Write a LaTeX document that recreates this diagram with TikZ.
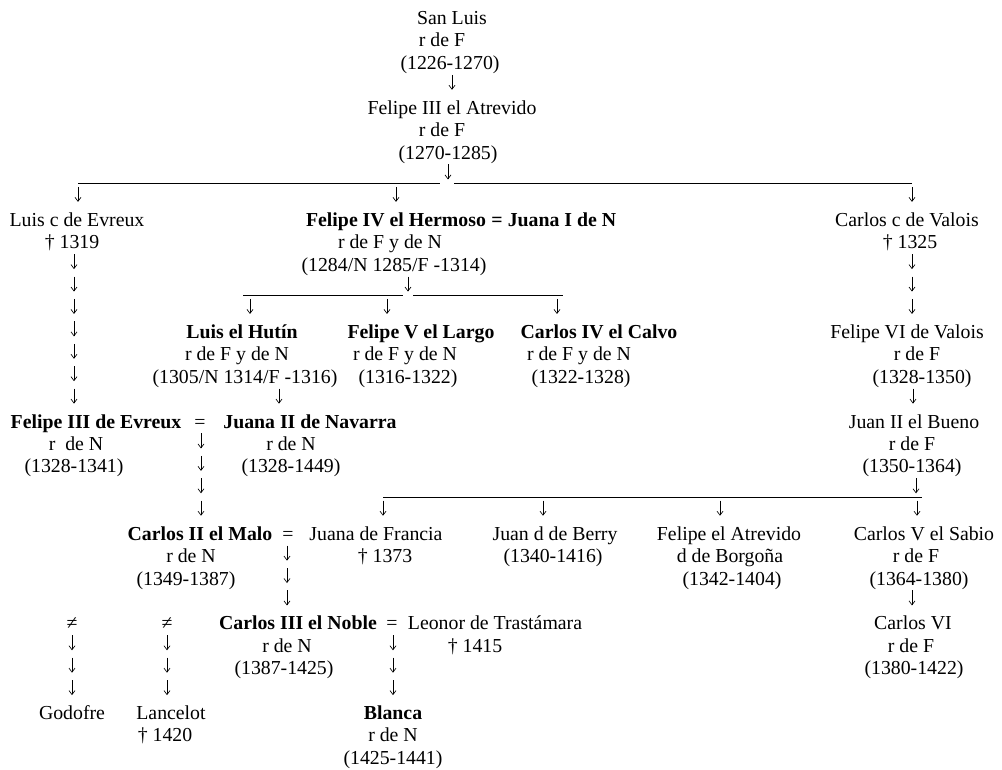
\documentclass[tikz,border=0pt]{standalone}
\usepackage{fontspec}
\setmainfont{Liberation Serif}
\usetikzlibrary{calc,arrows.meta}

% one small arrow standing on the row of a point
\newcommand{\arrowat}[2][0pt]{%
  \draw[desc] ([xshift=#1, yshift=17pt]#2) -- ([xshift=#1, yshift=2pt]#2);%
}
% n arrows in a column, from one point down to the row of another
\newcommand{\lineage}[4][0pt]{%
  \foreach \k in {1,...,#4}{%
    \pgfmathsetmacro{\lpos}{\k/(#4+1)}%
    \coordinate (tip) at ($(#2)!\lpos!(#2 |- #3)$);
    \arrowat[#1]{tip}
  }%
}

\begin{document}
\begin{tikzpicture}[x=1pt, y=-22.42pt,
    every node/.style={anchor=base, inner sep=0pt, font=\fontsize{19.8}{22.42}\selectfont},
    king/.style={font=\fontsize{19.8}{22.42}\selectfont\bfseries},
    desc/.style={line width=0.65pt, -{Straight Barb[length=4pt, width=6pt]}},
    bar/.style={line width=0.9pt, transform canvas={yshift=-2pt}}]
        \useasboundingbox (0,-1.093) rectangle (1002,33.207);

        % generation of San Luis
        \node (sanluis)    at (452,0) {San Luis};
        \node (sanluisR)   at (442,1) {r de F};
        \node (sanluisD)   at (450,2) {(1226-1270)};
        \node (felipeIII)  at (452,4) {Felipe III el Atrevido};
        \node (felipeIIIR) at (442,5) {r de F};
        \node (felipeIIID) at (448,6) {(1270-1285)};
        \coordinate (fork1) at (448,7);

        \coordinate (c1) at (78,7);
        \coordinate (c2) at (396,7);
        \coordinate (c3) at (912,7);

        \node (luisC)     at (77,9)  {Luis c de Evreux};
        \node (luisCD)    at (72,10) {† 1319};
        \node[king] (felipeIV) at (396,9) {Felipe IV el Hermoso};
        \node[king] (m0)       at (497,9) {=};
        \node[king] (juanaI)   at (562,9) {Juana I de N};
        \node (felipeIVR) at (390,10) {r de F y de N};
        \node (felipeIVD) at (394,11) {(1284/N 1285/F -1314)};
        \coordinate (fork2) at (408,12);
        \node (carlosVa)  at (907,9)  {Carlos c de Valois};
        \node (carlosVaD) at (910,10) {† 1325};

        \coordinate (b2l) at (243,12);
        \coordinate (b2r) at (563,12);
        \coordinate (d1) at (250,12);
        \coordinate (d2) at (387,12);
        \coordinate (d3) at (557,12);

        % sons of Felipe IV
        \node[king] (luisH) at (242,14) {Luis el Hutín};
        \node (luisHR)      at (237,15) {r de F y de N};
        \node (luisHD)      at (245,16) {(1305/N 1314/F -1316)};
        \node[king] (felipeV) at (421,14) {Felipe V el Largo};
        \node (felipeVR)      at (405,15) {r de F y de N};
        \node (felipeVD)      at (408,16) {(1316-1322)};
        \node[king] (carlosIV) at (599,14) {Carlos IV el Calvo};
        \node (carlosIVR)      at (579,15) {r de F y de N};
        \node (carlosIVD)      at (581,16) {(1322-1328)};

        % Valois line
        \node (felipeVI)  at (907,14) {Felipe VI de Valois};
        \node (felipeVIR) at (917,15) {r de F};
        \node (felipeVID) at (922,16) {(1328-1350)};
        \node (juanII)    at (914,18) {Juan II el Bueno};
        \node (juanIIR)   at (912,19) {r de F};
        \node (juanIID)   at (912,20) {(1350-1364)};
        \coordinate (fork3) at (916,21);

        \coordinate (e1) at (383,21);
        \coordinate (e2) at (543,21);
        \coordinate (e3) at (720,21);
        \coordinate (e4) at (917,21);

        % Evreux line
        \node[king] (felipeEv) at (96,18) {Felipe III de Evreux};
        \node (felipeEvR)      at (76,19) {r\ \ de N};
        \node (felipeEvD)      at (74,20) {(1328-1341)};
        \node (m1)             at (200,18) {=};
        \node[king] (juanaII)  at (310,18) {Juana II de Navarra};
        \node (juanaIIR)       at (291,19) {r de N};
        \node (juanaIID)       at (291,20) {(1328-1449)};

        \node[king] (carlosII) at (200,23) {Carlos II el Malo};
        \node (carlosIIR)      at (191,24) {r de N};
        \node (carlosIID)      at (186,25) {(1349-1387)};
        \node (m2)             at (288,23) {=};
        \node (juanaF)         at (376,23) {Juana de Francia};
        \node (juanaFD)        at (385,24) {† 1373};
        \node (juanB)          at (555,23) {Juan d de Berry};
        \node (juanBD)         at (553,24) {(1340-1416)};
        \node (felipeA)        at (729,23) {Felipe el Atrevido};
        \node (felipeAR)       at (730,24) {d de Borgoña};
        \node (felipeAD)       at (732,25) {(1342-1404)};
        \node (carlosVS)       at (924,23) {Carlos V el Sabio};
        \node (carlosVSR)      at (916,24) {r de F};
        \node (carlosVSD)      at (919,25) {(1364-1380)};

        \node[king] (carlosIII) at (298,27) {Carlos III el Noble};
        \node (carlosIIIR)      at (287,28) {r de N};
        \node (carlosIIID)      at (284,29) {(1387-1425)};
        \node (m3)              at (392,27) {=};
        \node (leonor)          at (495,27) {Leonor de Trastámara};
        \node (leonorD)         at (475,28) {† 1415};
        \node (carlosVI)        at (913,27) {Carlos VI};
        \node (carlosVIR)       at (911,28) {r de F};
        \node (carlosVID)       at (914,29) {(1380-1422)};

        \node (ne1)      at (72,27)  {≠};
        \node (ne2)      at (167,27) {≠};
        \node (godofre)  at (72,31)  {Godofre};
        \node (lancelot) at (171,31) {Lancelot};
        \node (lancelotD) at (165,32) {† 1420};
        \node[king] (blanca) at (393,31) {Blanca};
        \node (blancaR)  at (393,32) {r de N};
        \node (blancaD)  at (393,33) {(1425-1441)};

        % bars
        \draw[bar] (c1) -- ([xshift=-8pt]fork1);
        \draw[bar] ([xshift=6pt]fork1) -- (c3);
        \draw[bar] (b2l) -- ([xshift=-5pt]fork2);
        \draw[bar] ([xshift=5pt]fork2) -- (b2r);
        \draw[bar] (e1) -- ([xshift=6pt]fork3);

        % descents
        \arrowat{fork1}
        \arrowat{fork2}
        \arrowat{fork3}
        \lineage[2pt]{sanluisD.base}{felipeIII.base}{1}
        \lineage{c1}{luisC.base}{1}
        \lineage{c2}{felipeIV.base}{1}
        \lineage{c3}{carlosVa.base}{1}
        \lineage[2pt]{luisCD.base}{felipeEv.base}{7}
        \lineage[2pt]{carlosVaD.base}{felipeVI.base}{3}
        \lineage{d1}{luisH.base}{1}
        \lineage{d2}{felipeV.base}{1}
        \lineage{d3}{carlosIV.base}{1}
        \lineage[34pt]{luisHD.base}{juanaII.base}{1}
        \lineage[-9pt]{felipeVID.base}{juanII.base}{1}
        \lineage[1pt]{m1.base}{carlosII.base}{4}
        \lineage{e1}{juanaF.base}{1}
        \lineage{e2}{juanB.base}{1}
        \lineage{e3}{felipeA.base}{1}
        \lineage{e4}{carlosVS.base}{1}
        \lineage[-1pt]{m2.base}{carlosIII.base}{3}
        \lineage[-7pt]{carlosVSD.base}{carlosVI.base}{1}
        \lineage[1pt]{m3.base}{blanca.base}{3}
        \lineage{ne1.base}{godofre.base}{3}
        \lineage{ne2.base}{lancelot.base}{3}
    \end{tikzpicture}
\end{document}
